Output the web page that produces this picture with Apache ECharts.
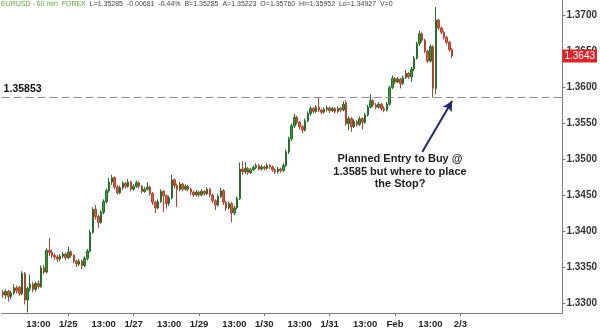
<!DOCTYPE html>
<html><head><meta charset="utf-8">
<script src="https://cdn.jsdelivr.net/npm/echarts@6/dist/echarts.min.js"></script>
<style>html,body{margin:0;padding:0;background:#fff}#c{width:600px;height:330px}</style>
</head><body><div id="c"></div>
<script>
// ---- data (EURUSD 60 min) ----
const opens = [
1.3315,1.3311,1.3316,1.3309,1.3314,1.3321,1.3322,1.3313,1.3341,1.3304,
1.3320,1.3326,1.3319,1.3327,1.3323,1.3349,1.3343,1.3373,1.3370,1.3366,
1.3364,1.3361,1.3365,1.3368,1.3363,1.3371,1.3366,1.3358,1.3354,1.3358,
1.3352,1.3362,1.3372,1.3398,1.3430,1.3420,1.3412,1.3426,1.3441,1.3456,
1.3468,1.3474,1.3461,1.3453,1.3460,1.3466,1.3462,1.3468,1.3458,1.3462,
1.3467,1.3462,1.3455,1.3458,1.3461,1.3452,1.3440,1.3432,1.3441,1.3455,
1.3449,1.3438,1.3446,1.3471,1.3463,1.3458,1.3465,1.3458,1.3462,1.3458,
1.3454,1.3450,1.3454,1.3450,1.3455,1.3452,1.3458,1.3450,1.3442,1.3436,
1.3448,1.3456,1.3440,1.3432,1.3438,1.3425,1.3432,1.3445,1.3486,1.3482,
1.3487,1.3481,1.3485,1.3488,1.3491,1.3486,1.3489,1.3487,1.3491,1.3489,
1.3485,1.3482,1.3486,1.3484,1.3491,1.3510,1.3528,1.3546,1.3558,1.3551,
1.3545,1.3540,1.3553,1.3563,1.3570,1.3566,1.3572,1.3568,1.3565,1.3569,
1.3571,1.3567,1.3570,1.3566,1.3570,1.3568,1.3578,1.3549,1.3556,1.3545,
1.3552,1.3548,1.3556,1.3551,1.3561,1.3572,1.3581,1.3575,1.3572,1.3576,
1.3570,1.3568,1.3576,1.3599,1.3612,1.3607,1.3611,1.3605,1.3613,1.3619,
1.3614,1.3625,1.3640,1.3660,1.3674,1.3665,1.3650,1.3636,1.3656,1.3598,
1.3693,1.3682,1.3676,1.3669,1.3662,1.3652];
const closes = [
1.3311,1.3316,1.3309,1.3314,1.3321,1.3317,1.3313,1.3341,1.3304,1.3320,
1.3326,1.3319,1.3327,1.3323,1.3349,1.3343,1.3373,1.3370,1.3366,1.3364,
1.3361,1.3365,1.3368,1.3363,1.3371,1.3366,1.3358,1.3354,1.3358,1.3352,
1.3362,1.3372,1.3398,1.3430,1.3420,1.3412,1.3426,1.3441,1.3456,1.3468,
1.3474,1.3461,1.3453,1.3460,1.3466,1.3462,1.3468,1.3458,1.3462,1.3467,
1.3462,1.3455,1.3458,1.3461,1.3452,1.3440,1.3432,1.3441,1.3455,1.3449,
1.3438,1.3446,1.3471,1.3463,1.3458,1.3465,1.3458,1.3462,1.3458,1.3454,
1.3450,1.3454,1.3450,1.3455,1.3452,1.3458,1.3450,1.3442,1.3436,1.3448,
1.3456,1.3440,1.3432,1.3438,1.3425,1.3432,1.3445,1.3486,1.3482,1.3487,
1.3481,1.3485,1.3488,1.3491,1.3486,1.3489,1.3487,1.3491,1.3489,1.3485,
1.3482,1.3486,1.3484,1.3491,1.3510,1.3528,1.3546,1.3558,1.3551,1.3545,
1.3540,1.3553,1.3563,1.3570,1.3566,1.3572,1.3568,1.3565,1.3569,1.3571,
1.3567,1.3570,1.3566,1.3570,1.3568,1.3576,1.3549,1.3556,1.3545,1.3552,
1.3548,1.3556,1.3551,1.3561,1.3572,1.3581,1.3575,1.3572,1.3576,1.3570,
1.3568,1.3576,1.3599,1.3612,1.3607,1.3611,1.3605,1.3613,1.3619,1.3614,
1.3625,1.3640,1.3660,1.3674,1.3665,1.3650,1.3636,1.3656,1.3598,1.3693,
1.3682,1.3676,1.3669,1.3662,1.3652,1.3643];
const lows = [
1.3307,1.3306,1.3302,1.3305,1.3311,1.3313,1.3310,1.3311,1.3298,1.3287,
1.3316,1.3315,1.3316,1.3320,1.3321,1.3340,1.3341,1.3365,1.3362,1.3360,
1.3357,1.3358,1.3362,1.3360,1.3361,1.3363,1.3355,1.3350,1.3351,1.3347,
1.3350,1.3359,1.3370,1.3396,1.3416,1.3404,1.3410,1.3423,1.3438,1.3453,
1.3464,1.3458,1.3450,1.3451,1.3457,1.3459,1.3460,1.3455,1.3456,1.3460,
1.3459,1.3452,1.3453,1.3456,1.3449,1.3436,1.3425,1.3430,1.3439,1.3426,
1.3431,1.3435,1.3444,1.3459,1.3433,1.3455,1.3455,1.3456,1.3455,1.3450,
1.3447,1.3448,1.3447,1.3448,1.3449,1.3450,1.3447,1.3439,1.3429,1.3434,
1.3446,1.3436,1.3428,1.3430,1.3412,1.3422,1.3430,1.3443,1.3478,1.3479,
1.3478,1.3479,1.3483,1.3486,1.3484,1.3484,1.3484,1.3485,1.3486,1.3482,
1.3479,1.3480,1.3481,1.3482,1.3489,1.3507,1.3525,1.3543,1.3548,1.3541,
1.3536,1.3538,1.3551,1.3560,1.3563,1.3564,1.3565,1.3562,1.3563,1.3566,
1.3564,1.3565,1.3563,1.3564,1.3565,1.3566,1.3546,1.3540,1.3538,1.3543,
1.3545,1.3546,1.3541,1.3549,1.3559,1.3570,1.3572,1.3569,1.3570,1.3567,
1.3565,1.3566,1.3574,1.3597,1.3604,1.3605,1.3598,1.3603,1.3611,1.3611,
1.3607,1.3622,1.3638,1.3657,1.3662,1.3647,1.3633,1.3634,1.3585,1.3590,
1.3679,1.3673,1.3666,1.3659,1.3649,1.3640];
const highs = [
1.3318,1.3319,1.3318,1.3317,1.3326,1.3324,1.3324,1.3344,1.3343,1.3323,
1.3339,1.3329,1.3330,1.3331,1.3352,1.3353,1.3376,1.3390,1.3374,1.3369,
1.3367,1.3368,1.3371,1.3370,1.3378,1.3373,1.3368,1.3360,1.3361,1.3360,
1.3365,1.3375,1.3402,1.3433,1.3436,1.3423,1.3429,1.3444,1.3459,1.3474,
1.3478,1.3476,1.3464,1.3463,1.3469,1.3468,1.3472,1.3470,1.3465,1.3470,
1.3469,1.3464,1.3461,1.3468,1.3463,1.3454,1.3442,1.3444,1.3458,1.3457,
1.3451,1.3449,1.3478,1.3473,1.3466,1.3468,1.3467,1.3465,1.3464,1.3460,
1.3456,1.3457,1.3456,1.3458,1.3457,1.3461,1.3460,1.3452,1.3444,1.3451,
1.3460,1.3458,1.3442,1.3441,1.3440,1.3435,1.3448,1.3495,1.3497,1.3496,
1.3489,1.3488,1.3491,1.3494,1.3493,1.3492,1.3491,1.3494,1.3493,1.3491,
1.3487,1.3489,1.3488,1.3494,1.3513,1.3531,1.3549,1.3563,1.3560,1.3553,
1.3547,1.3556,1.3566,1.3573,1.3572,1.3575,1.3586,1.3570,1.3572,1.3574,
1.3573,1.3572,1.3572,1.3573,1.3572,1.3580,1.3582,1.3559,1.3558,1.3555,
1.3554,1.3559,1.3558,1.3564,1.3575,1.3590,1.3583,1.3578,1.3579,1.3578,
1.3573,1.3579,1.3602,1.3616,1.3614,1.3614,1.3613,1.3616,1.3624,1.3621,
1.3628,1.3643,1.3663,1.3678,1.3676,1.3667,1.3652,1.3659,1.3658,1.3711,
1.3695,1.3684,1.3678,1.3671,1.3664,1.3654];

const slotCount = 206;                       // hourly slots on the axis (incl. empty space at right)
const tickSlots  = [13, 24, 37, 48, 61, 72, 85, 96, 109, 120, 133, 144, 157, 168];
const tickLabels = ['13:00','1/25','13:00','1/27','13:00','1/29','13:00','1/30','13:00','1/31','13:00','Feb','13:00','2/3'];
const entryLevel = 1.35853;
const yMin = 1.32861, yMax = 1.37208;
const headerName = 'EURUSD - 60 min  FOREX';
const headerQuote = '  L=1.35285  -0.00681  -0.44%  B=1.35285  A=1.35223  O=1.35760  Hi=1.35952  Lo=1.34927  V=0';
const noteText = 'Planned Entry to Buy @\n1.3585 but where to place\nthe Stop?';

// ---- build ----
const categories = [];
for (let i = 0; i < slotCount; i++) categories.push('s' + i);
const labelMap = {};
tickSlots.forEach((s, k) => { labelMap[s] = tickLabels[k]; });
const dateSlots = tickSlots.filter((s, k) => tickLabels[k] !== '13:00');
const ohlc = opens.map((o, i) => [o, closes[i], lows[i], highs[i]]);
const lastClose = closes[closes.length - 1];

const chart = echarts.init(document.getElementById('c'), null, {renderer: 'canvas'});
chart.setOption({
  animation: false,
  backgroundColor: '#ffffff',
  grid: {left: 0, right: 33, top: 0, bottom: 17, containLabel: false},
  xAxis: {
    type: 'category', data: categories, boundaryGap: true,
    axisLine: {show: true, lineStyle: {color: '#7a7a7a', width: 1}},
    axisTick: {show: true, length: 3, alignWithLabel: true, lineStyle: {color: '#7a7a7a'},
      interval: (idx) => dateSlots.indexOf(idx) >= 0},
    axisLabel: {interval: 0, margin: 6, fontSize: 9.5, fontWeight: 'bold', color: '#222',
      fontFamily: 'Liberation Sans, Arial, sans-serif',
      formatter: (v, idx) => labelMap[idx] || ''},
    splitLine: {show: false}
  },
  yAxis: {
    type: 'value', position: 'right', scale: true,
    min: yMin, max: yMax, splitNumber: 8, minInterval: 0.005, maxInterval: 0.005,
    axisLine: {show: true, lineStyle: {color: '#7a7a7a', width: 1}},
    axisTick: {show: true, length: 3, lineStyle: {color: '#7a7a7a'}},
    axisLabel: {margin: 4, fontSize: 10, fontWeight: 'bold', color: '#333',
      fontFamily: 'Liberation Sans, Arial, sans-serif',
      showMinLabel: false, showMaxLabel: false,
      formatter: (v) => v.toFixed(4)},
    splitLine: {show: false}
  },
  series: [{
    type: 'candlestick',
    data: ohlc,
    barWidth: 2,
    itemStyle: {color: '#3c9a34', color0: '#e4574c', borderColor: '#22702a', borderColor0: '#b8402f', borderWidth: 1},
    markLine: {
      silent: true, symbol: ['none', 'none'], precision: 5,
      data: [
        {yAxis: entryLevel,
          lineStyle: {color: '#8c8c8c', width: 1, type: [8, 4]},
          label: {show: true, position: 'insideStartTop', distance: [2, 3], formatter: String(entryLevel),
            fontSize: 10.5, fontWeight: 'bold', color: '#111', fontFamily: 'Liberation Sans, Arial, sans-serif'}},
        {yAxis: lastClose,
          lineStyle: {color: 'rgba(0,0,0,0)', width: 0},
          label: {show: true, position: 'end', distance: 0, formatter: lastClose.toFixed(4),
            backgroundColor: '#d8262b', color: '#ffffff', padding: [2, 2, 1, 2], fontSize: 10,
            fontFamily: 'Liberation Sans, Arial, sans-serif'}},
        [
          {coord: [153.6, 1.35097], symbol: 'none'},
          {coord: [165.2, 1.35805], symbol: 'arrow', symbolSize: [8, 10],
            lineStyle: {color: '#1f2a6e', width: 2, type: 'solid'}, label: {show: false}}
        ]
      ]
    }
  }],
  graphic: [
    {type: 'text', left: 1, top: 1, z: 10, style: {
      text: '{g|' + headerName + '}{k|' + headerQuote + '}',
      rich: {g: {fontSize: 7, fill: '#5fa83a', fontFamily: 'Liberation Sans, Arial, sans-serif'},
             k: {fontSize: 7, fill: '#444', fontFamily: 'Liberation Sans, Arial, sans-serif'}}}},
    {type: 'text', x: 400, y: 153, z: 10, style: {
      text: noteText, textAlign: 'center', textVerticalAlign: 'top',
      font: 'bold 11px "Liberation Sans", Arial, sans-serif', lineHeight: 12.5, fill: '#1e1e1e'}}
  ]
});
</script></body></html>
